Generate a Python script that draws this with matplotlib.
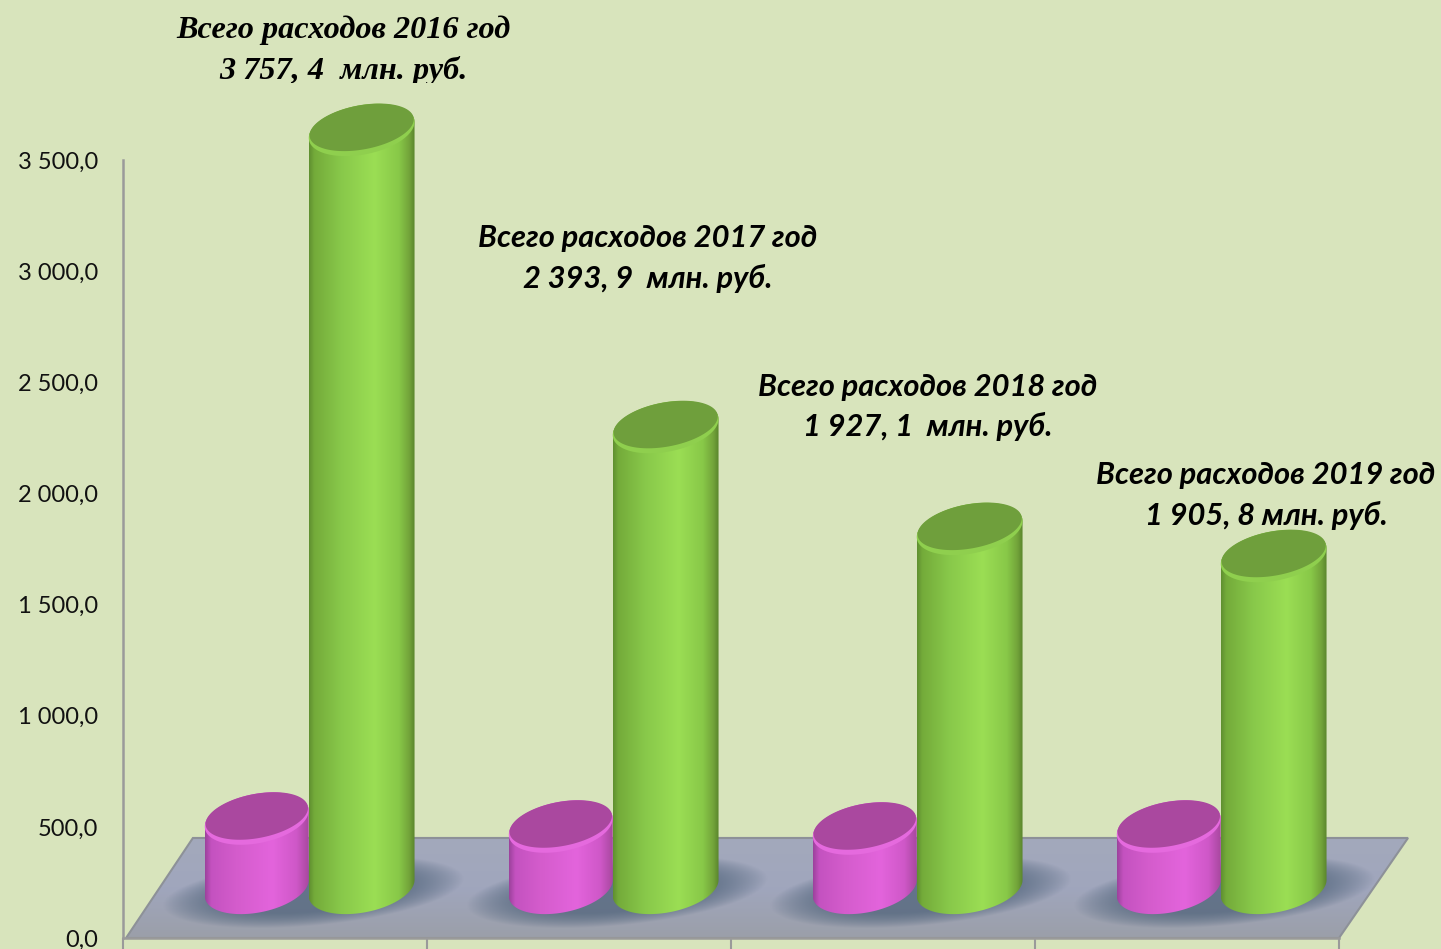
import numpy as np
import matplotlib
matplotlib.use("Agg")
import matplotlib.pyplot as plt
from matplotlib.colors import LinearSegmentedColormap
from matplotlib.patches import Polygon, Rectangle

# values (height of each cylinder on the value axis)
years = ["2016", "2017", "2018", "2019"]
purple_vals = [312, 276, 267, 276]
green_vals = [3410, 2073, 1615, 1493]
ytick_vals = [0, 500, 1000, 1500, 2000, 2500, 3000, 3500]
ytick_labels = ["0,0", "500,0", "1 000,0", "1 500,0", "2 000,0", "2 500,0", "3 000,0", "3 500,0"]
total_labels = ["3 757, 4  млн. руб.", "2 393, 9  млн. руб.", "1 927, 1  млн. руб.", "1 905, 8 млн. руб."]

W, H = 1441, 949
BG = "#d8e4bc"
SANS = ["Lato", "Open Sans"]
BASE_Y = 225      # depth offset of the bases on the floor
B = 112           # ellipse half height (value units)
S = 36            # ellipse tilt (value units)

green_cmap = LinearSegmentedColormap.from_list("g", [(0, "#5f9030"), (0.05, "#74ab3a"), (0.3, "#88c84a"),
                                                     (0.62, "#9bde54"), (0.85, "#88c848"), (0.95, "#72a33a"), (1, "#5a852c")])
purple_cmap = LinearSegmentedColormap.from_list("p", [(0, "#9c429c"), (0.06, "#c452c0"), (0.3, "#d45ccc"),
                                                      (0.65, "#e364dc"), (0.88, "#cf58c8"), (1, "#a8489f")])
floor_cmap = LinearSegmentedColormap.from_list("f", ["#9b9fa9", "#a0a6bd", "#a3a9bb"])

fig = plt.figure(figsize=(W / 100, H / 100), dpi=100, facecolor=BG)
ax = fig.add_axes([123 / W, (H - 938) / H, (1339 - 123) / W, 778 / H])
ax.set_facecolor("none")


def ell(cx, cy, a, b, s, t):
    return cx + a * np.cos(t), cy + b * np.sin(t) + s * np.cos(t)


def fill_ell(cx, cy, a, b, s, color, z):
    x, y = ell(cx, cy, a, b, s, np.linspace(0, 2 * np.pi, 120))
    ax.fill(x, y, color=color, lw=0, zorder=z, clip_on=False)


def cylinder(cx, a, val, cmap, top, rim, z):
    t1 = np.linspace(np.pi, 2 * np.pi, 60)
    t2 = np.linspace(0, np.pi, 60)
    xb, yb = ell(cx, BASE_Y, a, B, S, t1)
    xt, yt = ell(cx, BASE_Y + val, a, B, S, t2)
    pts = np.column_stack([np.r_[xb, xt], np.r_[yb, yt]])
    ramp = np.linspace(0, 1, 256).reshape(1, -1)
    im = ax.imshow(ramp, cmap=cmap, aspect="auto", zorder=z, interpolation="bilinear",
                   extent=[cx - a, cx + a, BASE_Y - 200, BASE_Y + val + 200])
    im.set_clip_path(Polygon(pts, transform=ax.transData))
    im.set_clip_box(fig.bbox)
    # top face with a lighter rim at the front edge
    cy = BASE_Y + val
    fill_ell(cx, cy, a, B, S, rim, z + 0.1)
    fill_ell(cx, cy + 12, a * 0.985, B * 0.9, S, top, z + 0.2)


# floor
floor_pts = [(0.01, 0), (4, 0), (4.227, 450), (0.23, 450)]
ax.imshow(np.linspace(0, 1, 64).reshape(-1, 1), cmap=floor_cmap, aspect="auto", zorder=1,
          origin="lower", extent=[0, 4.25, 0, 450]).set_clip_path(Polygon(floor_pts, transform=ax.transData))
ax.images[-1].set_clip_box(fig.bbox)
ax.add_patch(Polygon(floor_pts, closed=True, facecolor="none", edgecolor="#8d9198", lw=1.5, zorder=1.5, clip_on=False))

# soft shadows under the bars, one smooth image per pair
gx, gy = np.meshgrid(np.linspace(0, 4.25, 900), np.linspace(0, 450, 200))
shadow = np.zeros_like(gx)
for i in range(len(years)):
    u = (gx - (i + 0.625)) / 0.46
    v = (gy - 205 - 55 * u) / 140
    shadow = np.maximum(shadow, 0.72 * np.clip(1.25 - (u ** 2 + v ** 2) ** 1.5, 0, 1))
rgba = np.zeros(gx.shape + (4,))
rgba[..., :3] = (0.30, 0.38, 0.47)
rgba[..., 3] = shadow
sh = ax.imshow(rgba, aspect="auto", zorder=2, origin="lower", extent=[0, 4.25, 0, 450])
sh.set_clip_path(Polygon(floor_pts, transform=ax.transData))
sh.set_clip_box(fig.bbox)

# bars
for i in range(len(years)):
    cylinder(i + 0.44, 0.171, purple_vals[i], purple_cmap, "#aa489f", "#e56ade", 3)
    cylinder(i + 0.785, 0.174, green_vals[i], green_cmap, "#6f9f3c", "#8fcf4e", 4)

ax.set_xlim(0, 4)
ax.set_ylim(0, 3500)
ax.set_xticks(range(5))
ax.set_xticklabels([])
ax.set_yticks(ytick_vals)
ax.set_yticklabels(ytick_labels, fontsize=17, family=SANS, color="#111111")
ax.tick_params(axis="y", length=0, pad=18)
ax.tick_params(axis="x", length=8, width=1.5, color="#9a9a9a", direction="out")
for side in ["top", "right"]:
    ax.spines[side].set_visible(False)
for side in ["left", "bottom"]:
    ax.spines[side].set_color("#9a9a9a")
    ax.spines[side].set_linewidth(1.8)
    ax.spines[side].set_zorder(5)

# labels over the bars
lab_x = [343, 648, 928, 1266]
lab_y = [[30, 71], [238, 278], [387, 426], [475, 515]]
for i in range(len(years)):
    fam = "Liberation Serif" if i == 0 else SANS
    size = 23.2 if i == 0 else 22.2
    for line, y, txt in zip(range(2), lab_y[i], [f"Всего расходов {years[i]} год", total_labels[i]]):
        t = fig.text(lab_x[i] / W, 1 - y / H, txt, ha="center", va="center", family=fam,
                     style="italic", weight="bold", fontsize=size, color="black")
        if i == 0 and line == 1:
            # the lower line of the first label is cut off in the source
            t.set_clip_path(Rectangle((0, 1 - 83 / H), 1, 83 / H, transform=fig.transFigure))
            t.set_clip_on(True)

fig.savefig("out.png", dpi=100, facecolor=BG)
